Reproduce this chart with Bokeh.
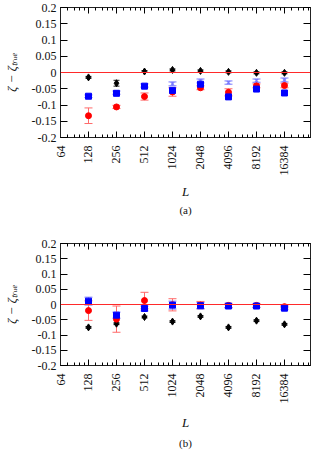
import math
from bokeh.plotting import figure
from bokeh.layouts import column
from bokeh.models import (ColumnDataSource, Whisker, TeeHead, Span, FixedTicker,
                          LogAxis, LinearAxis, CustomJSTickFormatter, Title, Range1d)
from bokeh.embed import file_html
from bokeh.resources import INLINE

# ---------------- data ----------------
L = [128, 256, 512, 1024, 2048, 4096, 8192, 16384]
x_ticks = [64, 128, 256, 512, 1024, 2048, 4096, 8192, 16384]
y_ticks = [-0.2, -0.15, -0.1, -0.05, 0.0, 0.05, 0.1, 0.15, 0.2]

# panel (a)
a_black = [-0.015, -0.033, 0.003, 0.008, 0.005, 0.002, -0.001, -0.001]
a_black_err = [0.003, 0.009, 0.003, 0.003, 0.003, 0.003, 0.003, 0.003]
a_red = [-0.133, -0.106, -0.074, -0.060, -0.047, -0.061, -0.041, -0.040]
a_red_err = [0.024, 0.005, 0.011, 0.013, 0.006, 0.011, 0.006, 0.007]
a_blue = [-0.073, -0.064, -0.042, -0.055, -0.036, -0.075, -0.051, -0.063]
a_lblue = [-0.073, -0.062, -0.040, -0.035, -0.026, -0.031, -0.025, -0.023]
a_lblue_err = [0.004, 0.005, 0.005, 0.006, 0.006, 0.005, 0.005, 0.006]

# panel (b)
b_black = [-0.075, -0.063, -0.041, -0.056, -0.039, -0.075, -0.053, -0.065]
b_black_err = [0.003, 0.003, 0.003, 0.003, 0.003, 0.003, 0.003, 0.003]
b_red = [-0.020, -0.048, 0.013, -0.001, -0.002, -0.003, -0.003, -0.007]
b_red_err = [0.032, 0.043, 0.027, 0.020, 0.012, 0.007, 0.006, 0.004]
b_blue = [0.011, -0.035, -0.013, -0.002, -0.004, -0.005, -0.005, -0.012]
b_lblue = [0.011, -0.035, -0.013, -0.002, -0.004, -0.005, -0.005, -0.012]
b_lblue_err = [0.013, 0.010, 0.008, 0.013, 0.010, 0.006, 0.005, 0.005]

FONT = "Liberation Serif"
INK = "#111111"

# minor ticks: linear subdivisions inside each octave
x_minor = []
for lo in x_ticks:
    for k in range(1, 5):
        x_minor.append(lo + lo * k / 5.0)
x_minor = [m for m in x_minor if m < 31200]


def errbar(p, xs, ys, es, color, head):
    src = ColumnDataSource(dict(x=xs, up=[y + e for y, e in zip(ys, es)],
                                lo=[y - e for y, e in zip(ys, es)]))
    w = Whisker(source=src, base="x", upper="up", lower="lo", dimension="height",
                line_color=color, line_width=1,
                upper_head=TeeHead(size=head, line_color=color, line_width=1),
                lower_head=TeeHead(size=head, line_color=color, line_width=1))
    p.add_layout(w)


def panel(caption, black, black_err, red, red_err, blue, lblue, lblue_err,
          height, btop, bbottom, lab_standoff, cap_standoff):
    p = figure(width=311, height=height, x_axis_type="log",
               x_range=Range1d(64, 31200), y_range=Range1d(-0.2, 0.2),
               output_backend="svg", toolbar_location=None,
               min_border_left=60, min_border_right=1,
               min_border_top=btop, min_border_bottom=bbottom)
    p.xgrid.visible = False
    p.ygrid.visible = False
    p.outline_line_color = "#222222"
    p.background_fill_color = "white"
    p.border_fill_color = "white"

    xa = p.xaxis[0]
    xa.ticker = FixedTicker(ticks=x_ticks, minor_ticks=x_minor)
    xa.formatter = CustomJSTickFormatter(code="return String(Math.round(tick));")
    xa.major_label_orientation = math.pi / 2
    xa.major_tick_in = 6
    xa.major_tick_out = 0
    xa.minor_tick_in = 3
    xa.minor_tick_out = 0
    xa.major_label_standoff = 8
    xa.major_label_text_font = FONT
    xa.major_label_text_font_size = "12px"
    xa.major_label_text_color = INK
    xa.axis_label = "L"
    xa.axis_label_text_font = FONT
    xa.axis_label_text_font_style = "italic"
    xa.axis_label_text_font_size = "13px"
    xa.axis_label_text_color = INK
    xa.axis_label_standoff = lab_standoff
    xa.axis_line_color = "#222222"

    ya = p.yaxis[0]
    ya.ticker = FixedTicker(ticks=y_ticks, minor_ticks=[])
    ya.formatter = CustomJSTickFormatter(code="return String(parseFloat(tick.toFixed(2)));")
    ya.major_tick_in = 7
    ya.major_tick_out = 0
    ya.minor_tick_in = 0
    ya.minor_tick_out = 0
    ya.major_label_standoff = 4
    ya.major_label_text_font = FONT
    ya.major_label_text_font_size = "12px"
    ya.major_label_text_color = INK
    ya.axis_label = "ζ − ζₜᵣᵤₑ"
    ya.axis_label_text_font = FONT
    ya.axis_label_text_font_style = "italic"
    ya.axis_label_text_font_size = "13px"
    ya.axis_label_text_color = INK
    ya.axis_label_standoff = 10
    ya.axis_line_color = "#222222"

    blank = CustomJSTickFormatter(code="return '';")
    top = LogAxis(ticker=FixedTicker(ticks=x_ticks, minor_ticks=x_minor),
                  formatter=blank, major_label_orientation=math.pi / 2,
                  major_tick_in=6, major_tick_out=0, minor_tick_in=3, minor_tick_out=0,
                  major_label_standoff=0, axis_line_color="#222222")
    right = LinearAxis(ticker=FixedTicker(ticks=y_ticks, minor_ticks=[]),
                       formatter=blank,
                       major_tick_in=7, major_tick_out=0, minor_tick_in=0, minor_tick_out=0,
                       major_label_standoff=0, axis_line_color="#222222")
    p.add_layout(top, "above")
    p.add_layout(right, "right")

    p.add_layout(Span(location=0, dimension="width", line_color="#ff2a2a",
                      line_width=1))

    errbar(p, L, black, black_err, "#222222", 6)
    p.scatter(L, black, marker="diamond", size=7, color="black")
    errbar(p, L, red, red_err, "#ff6a6a", 8)
    p.scatter(L, red, marker="circle", size=6, color="#ff0000")
    errbar(p, L, lblue, lblue_err, "#7a7aff", 8)
    p.scatter(L, lblue, marker="x", size=5, line_color="#7a7aff", line_width=1.2)
    p.scatter(L, blue, marker="square", size=6, color="#0000ff")

    p.add_layout(Title(text=caption, align="center", text_font=FONT,
                       text_font_style="normal", text_font_size="11px",
                       text_color=INK, text_line_height=1.0,
                       standoff=cap_standoff), "below")
    return p


pa = panel("(a)", a_black, a_black_err, a_red, a_red_err, a_blue, a_lblue, a_lblue_err,
           236, 7, 99, 5, 0)
pb = panel("(b)", b_black, b_black_err, b_red, b_red_err, b_blue, b_lblue, b_lblue_err,
           214, 7, 75, 8, 4)

layout = column(pa, pb, spacing=0)
open("out.html", "w").write(file_html(layout, INLINE))
